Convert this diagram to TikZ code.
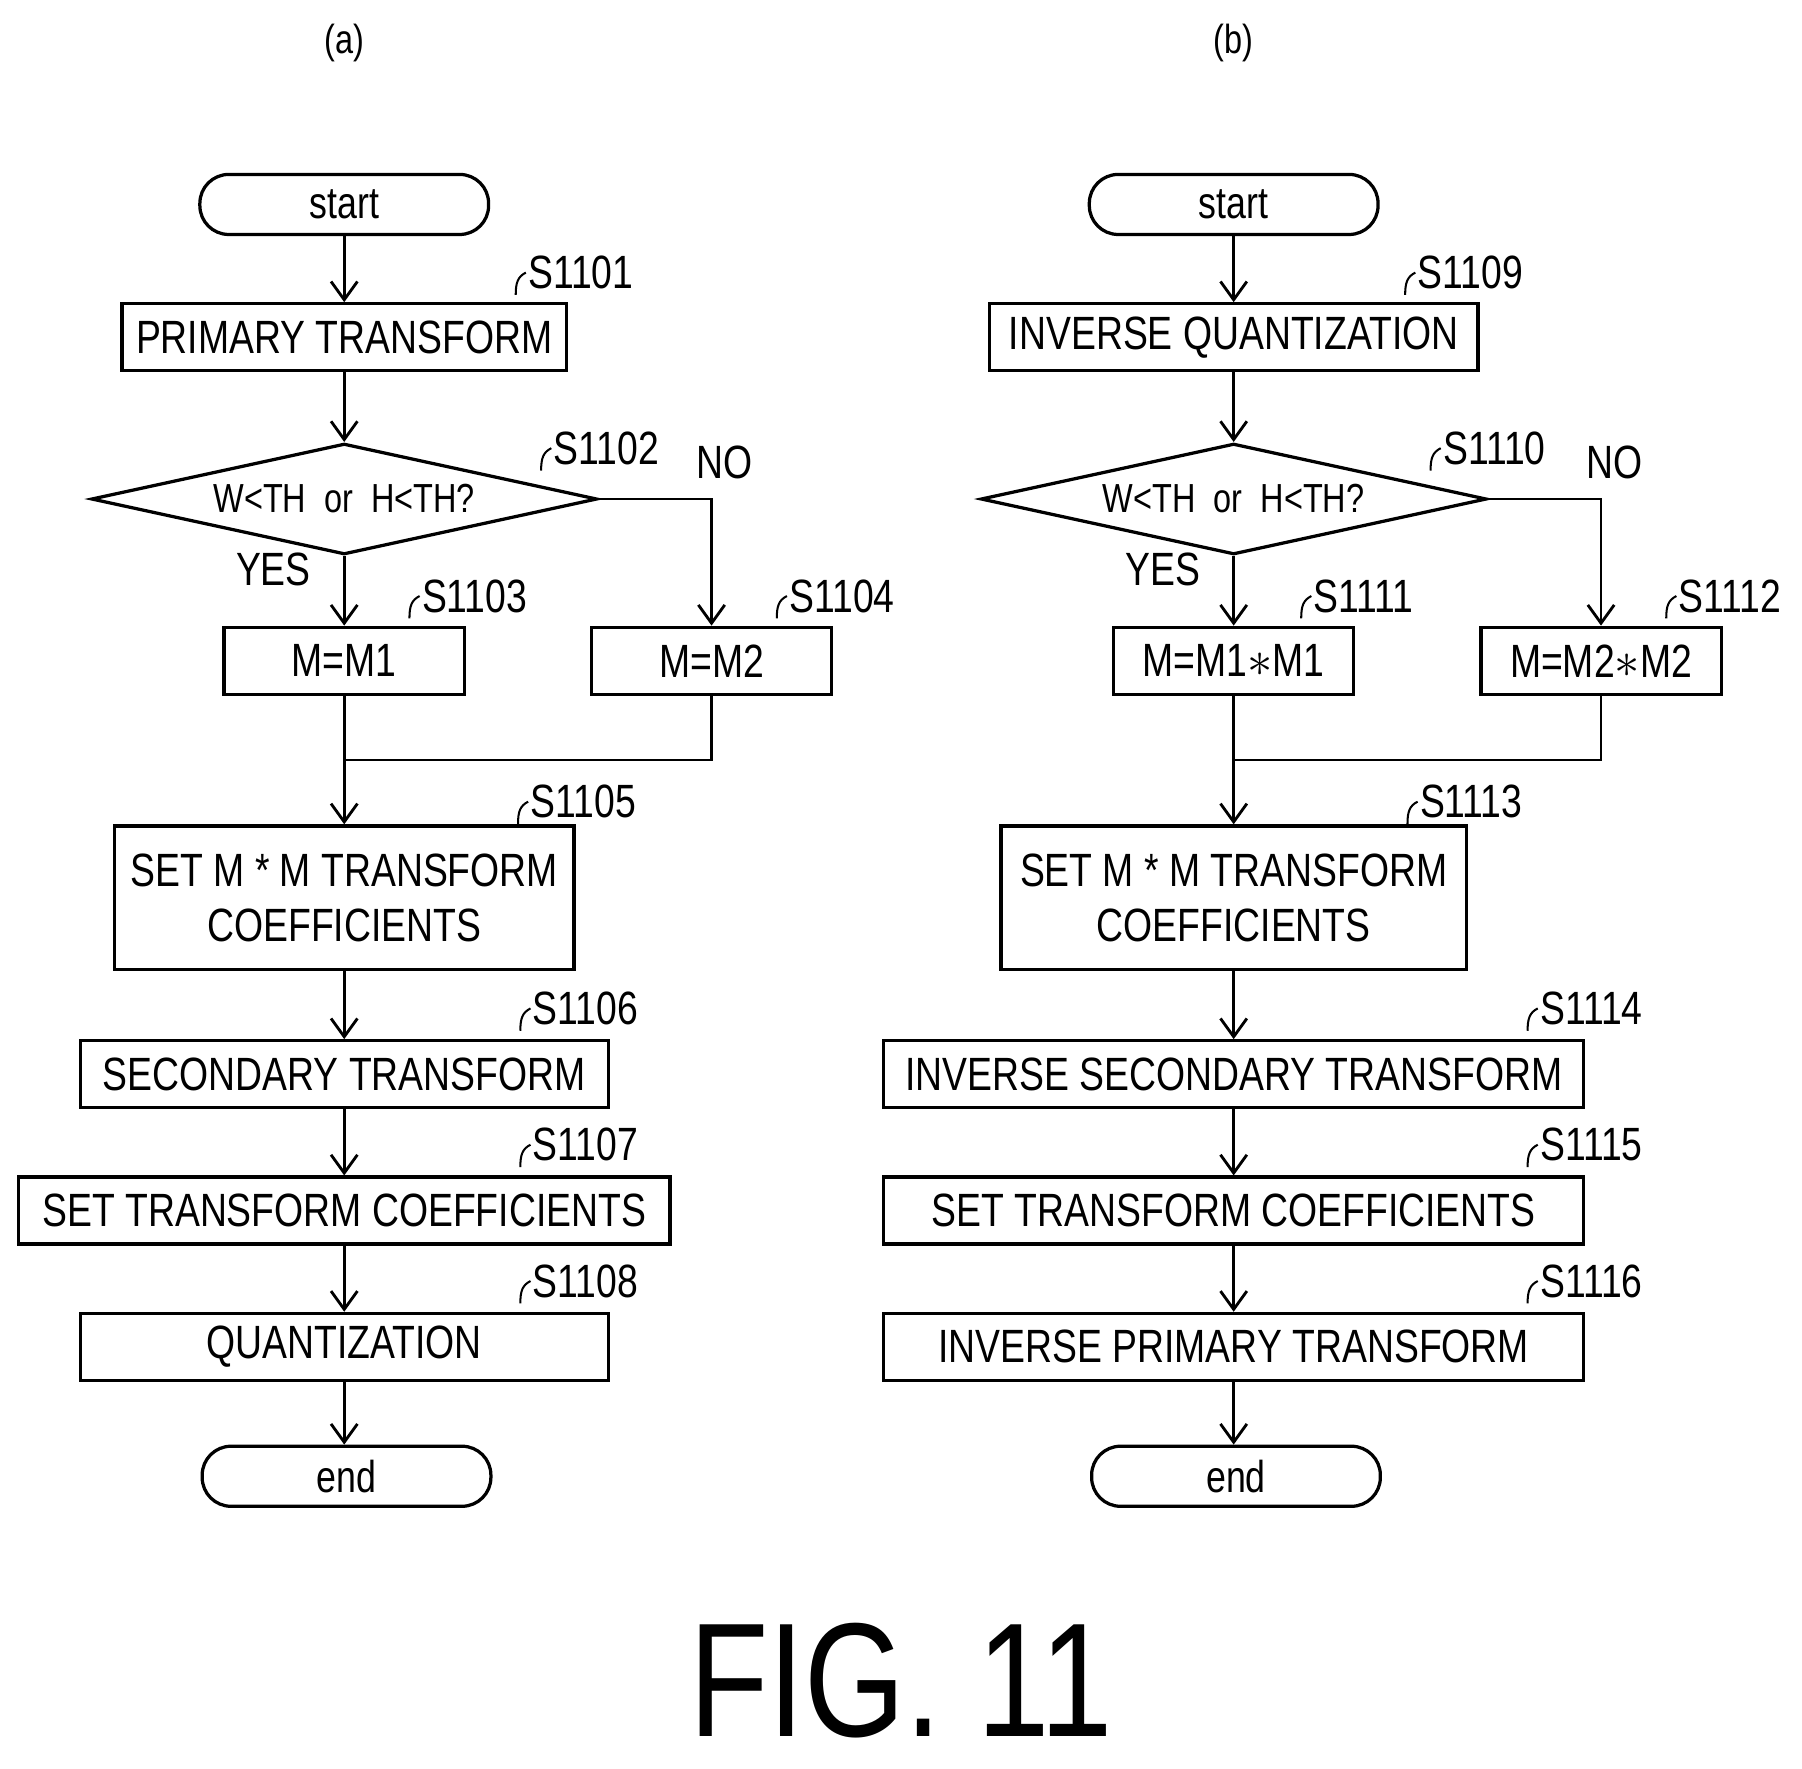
\documentclass[tikz,border=0pt]{standalone}
\usepackage{fontspec}
\setmainfont{Liberation Sans}[FakeStretch=0.8]
\usetikzlibrary{shapes.geometric,arrows.meta}
\tikzset{
  box/.style={draw,line width=1.6pt,minimum height=1.16cm,inner sep=0pt,font=\fontsize{23}{27}\selectfont},
  term/.style={draw,line width=1.6pt,rounded corners=0.5cm,minimum width=5cm,minimum height=1.04cm,font=\fontsize{22}{26}\selectfont},
  dec/.style={draw,line width=1.6pt,diamond,aspect=4.55,minimum width=8.76cm,minimum height=1.92cm,inner sep=0pt,font=\fontsize{20}{24}\selectfont},
  flow/.style={line width=1.4pt,-{Straight Barb[length=9pt,width=13pt]}},
  lbl/.style={font=\fontsize{23}{27}\selectfont,anchor=west,inner sep=0pt},
}
\newcommand{\steplbl}[3]{% name, position, text
  \node[lbl] (#1) at (#2) {#3};
  \draw[line width=1pt] (#1.west)++(-6pt,-11pt) .. controls +(0,6pt) and +(-4pt,-2pt) .. +(5pt,11pt);
}
\begin{document}
\begin{tikzpicture}[x=0.02cm,y=-0.02cm]
\useasboundingbox (0,0) rectangle (1560,1531);
%(a)
\node[font=\fontsize{20}{24}\selectfont] (ta) at (298,37) {(a)};
\node[term] (sa) at (298,177) {start};
\node[box,minimum width=7.7cm] (a1) at (298,292) {PRIMARY TRANSFORM};
\node[dec] (a2) at (298,432) {W<TH\ \ or\ \ H<TH?};
\node[box,minimum width=4.16cm] (a3) at (298,572) {M=M1};
\node[box,minimum width=4.16cm] (a4) at (616,572) {M=M2};
\node[box,minimum width=7.96cm,minimum height=2.48cm,align=center] (a5) at (298,777) {SET M * M TRANSFORM\\COEFFICIENTS};
\node[box,minimum width=9.14cm] (a6) at (298,930) {SECONDARY TRANSFORM};
\node[box,minimum width=11.28cm] (a7) at (298,1048) {SET TRANSFORM COEFFICIENTS};
\node[box,minimum width=9.14cm] (a8) at (298,1166) {QUANTIZATION};
\node[term] (ea) at (300,1278) {end};
\coordinate (ma) at (298,658);
\draw[flow] (sa) -- (a1);
\draw[flow] (a1) -- (a2);
\draw[flow] (a2.south) -- (a3);
\draw[flow] (a2.east) -| (a4.north);
\draw[line width=1.4pt] (a4.south) |- (ma);
\draw[flow] (a3.south) -- (a5.north);
\draw[flow] (a5) -- (a6);
\draw[flow] (a6) -- (a7);
\draw[flow] (a7) -- (a8);
\draw[flow] (a8.south) -- (a8.south |- ea.north);
\node[lbl] (ya) at (204,493) {YES};
\node[lbl] (na) at (603,400) {NO};
\steplbl{la1}{457,236}{S1101}
\steplbl{la2}{479,388}{S1102}
\steplbl{la3}{365,516}{S1103}
\steplbl{la4}{683,516}{S1104}
\steplbl{la5}{459,694}{S1105}
\steplbl{la6}{461,873}{S1106}
\steplbl{la7}{461,991}{S1107}
\steplbl{la8}{461,1109}{S1108}
%(b)
\node[font=\fontsize{20}{24}\selectfont] (tb) at (1068,37) {(b)};
\node[term] (sb) at (1068,177) {start};
\node[box,minimum width=8.46cm] (b1) at (1068,292) {INVERSE QUANTIZATION};
\node[dec] (b2) at (1068,432) {W<TH\ \ or\ \ H<TH?};
\node[box,minimum width=4.16cm] (b3) at (1068,572) {M=M1$*$M1};
\node[box,minimum width=4.16cm] (b4) at (1386,572) {M=M2$*$M2};
\node[box,minimum width=8.06cm,minimum height=2.48cm,align=center] (b5) at (1068,777) {SET M * M TRANSFORM\\COEFFICIENTS};
\node[box,minimum width=12.12cm] (b6) at (1068,930) {INVERSE SECONDARY TRANSFORM};
\node[box,minimum width=12.12cm] (b7) at (1068,1048) {SET TRANSFORM COEFFICIENTS};
\node[box,minimum width=12.12cm] (b8) at (1068,1166) {INVERSE PRIMARY TRANSFORM};
\node[term] (eb) at (1070,1278) {end};
\coordinate (mb) at (1068,658);
\draw[flow] (sb) -- (b1);
\draw[flow] (b1) -- (b2);
\draw[flow] (b2.south) -- (b3);
\draw[flow] (b2.east) -| (b4.north);
\draw[line width=1.4pt] (b4.south) |- (mb);
\draw[flow] (b3.south) -- (b5.north);
\draw[flow] (b5) -- (b6);
\draw[flow] (b6) -- (b7);
\draw[flow] (b7) -- (b8);
\draw[flow] (b8.south) -- (b8.south |- eb.north);
\node[lbl] (yb) at (974,493) {YES};
\node[lbl] (nb) at (1373,400) {NO};
\steplbl{lb1}{1227,236}{S1109}
\steplbl{lb2}{1249,388}{S1110}
\steplbl{lb3}{1137,516}{S1111}
\steplbl{lb4}{1453,516}{S1112}
\steplbl{lb5}{1229,694}{S1113}
\steplbl{lb6}{1333,873}{S1114}
\steplbl{lb7}{1333,991}{S1115}
\steplbl{lb8}{1333,1109}{S1116}
\node[font=\fontsize{80}{86}\selectfont] (fig) at (780,1455) {FIG. 11};
\end{tikzpicture}
\end{document}
